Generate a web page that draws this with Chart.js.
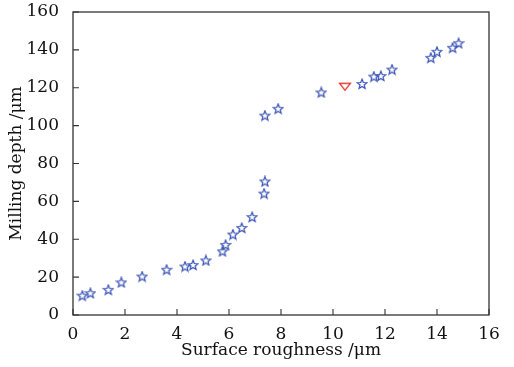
<!DOCTYPE html>
<html>
<head>
<meta charset="utf-8">
<script src="https://cdn.jsdelivr.net/npm/chart.js@4/dist/chart.umd.min.js"></script>
<style>
html,body{margin:0;padding:0;background:#fff;}
#wrap{width:514px;height:367px;}
</style>
</head>
<body>
<div id="wrap"><canvas id="c" width="514" height="367"></canvas></div>
<script>
// Data
const roughnessStar = [0.36,0.67,1.36,1.86,2.66,3.6,4.31,4.62,5.11,5.75,5.87,6.15,6.49,6.89,7.35,7.38,7.38,7.89,9.55,11.12,11.57,11.84,12.27,13.76,14.0,14.6,14.83];
const depthStar     = [10.2,11.5,13.3,17.2,20.3,23.9,25.6,26.4,28.8,33.6,37.0,42.5,46.0,51.7,64.1,70.5,105.3,108.9,117.5,122.0,125.9,126.2,129.6,135.8,139.0,141.1,143.5];
const roughnessTri  = [10.46];
const depthTri      = [120.5];
const xTicks = [0,2,4,6,8,10,12,14,16];
const yTicks = [0,20,40,60,80,100,120,140,160];

function makeStar(){
  const c=document.createElement('canvas'); c.width=12; c.height=12;
  const g=c.getContext('2d'); const cx=6, cy=6.3, R=5.1, r=2.2;
  g.beginPath();
  for(let i=0;i<10;i++){const a=-Math.PI/2+i*Math.PI/5; const rr=i%2?r:R; g.lineTo(cx+rr*Math.cos(a),cy+rr*Math.sin(a));}
  g.closePath(); g.strokeStyle='#3550b5'; g.lineWidth=1.2; g.stroke();
  return c;
}
function makeTri(){
  const c=document.createElement('canvas'); c.width=14; c.height=10;
  const g=c.getContext('2d');
  g.beginPath(); g.moveTo(1.5,1.5); g.lineTo(12.5,1.5); g.lineTo(7,8.5); g.closePath();
  g.strokeStyle='#e53a30'; g.lineWidth=1.3; g.stroke();
  return c;
}
const FONT="'DejaVu Serif', 'Liberation Serif', serif";

const frame = {
  id:'frame',
  afterDraw(chart){
    const {ctx, chartArea:a, scales} = chart;
    ctx.save();
    ctx.strokeStyle='#333'; ctx.lineWidth=1.3;
    ctx.strokeRect(a.left, a.top, a.right-a.left, a.bottom-a.top);
    ctx.lineWidth=1.1;
    ctx.beginPath();
    xTicks.forEach(v=>{const p=scales.x.getPixelForValue(v); ctx.moveTo(p,a.bottom); ctx.lineTo(p,a.bottom-6);});
    yTicks.forEach(v=>{const p=scales.y.getPixelForValue(v); ctx.moveTo(a.left,p); ctx.lineTo(a.left+6,p);});
    ctx.stroke();
    ctx.restore();
  }
};

new Chart(document.getElementById('c'), {
  type:'scatter',
  data:{datasets:[
    {data: roughnessStar.map((x,i)=>({x, y:depthStar[i]})), pointStyle: makeStar(), pointRadius:6},
    {data: roughnessTri.map((x,i)=>({x, y:depthTri[i]})), pointStyle: makeTri(), pointRadius:6}
  ]},
  options:{
    responsive:false, animation:false,
    layout:{padding:{top:12, right:25, left:0, bottom:0}},
    plugins:{legend:{display:false}, tooltip:{enabled:false}},
    scales:{
      x:{type:'linear', min:0, max:16,
        afterBuildTicks(s){ s.ticks = xTicks.map(v=>({value:v})); },
        grid:{display:false}, border:{display:false},
        ticks:{color:'#111', font:{family:FONT, size:17}, padding:1, maxRotation:0},
        title:{display:true, text:'Surface roughness /μm', color:'#111', font:{family:FONT, size:17}, padding:{top:0,bottom:6}},
        afterFit(s){ s.height = 52; s.paddingLeft = 0; s.paddingRight = 0; }
      },
      y:{type:'linear', min:0, max:160,
        afterBuildTicks(s){ s.ticks = yTicks.map(v=>({value:v})); },
        grid:{display:false}, border:{display:false},
        ticks:{color:'#111', font:{family:FONT, size:17}, padding:6},
        title:{display:true, text:'Milling depth /μm', color:'#111', font:{family:FONT, size:17}, padding:{top:6,bottom:0}},
        afterFit(s){ s.width = 73; s.paddingTop = 0; s.paddingBottom = 0; }
      }
    }
  },
  plugins:[frame]
});
</script>
</body>
</html>
